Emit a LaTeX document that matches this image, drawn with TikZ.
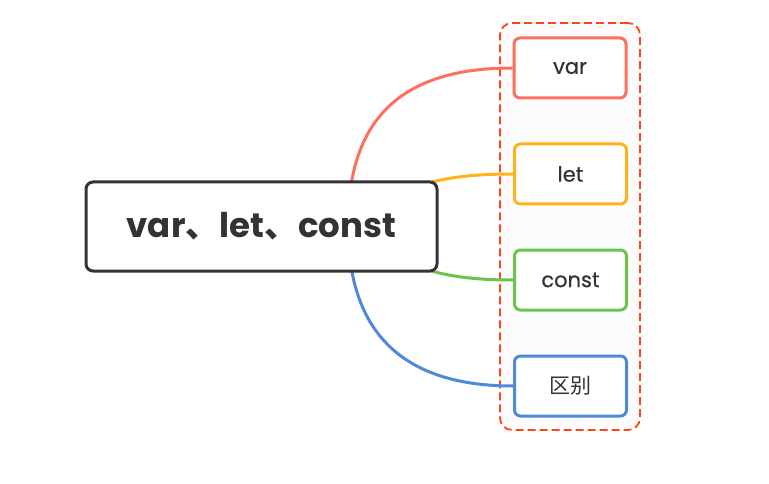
\documentclass[tikz,border=0pt]{standalone}
\usepackage{fontspec}
\setmainfont{Poppins}
\newfontfamily\cjk{Noto Sans CJK SC}
\definecolor{cred}{HTML}{FF6F5E}
\definecolor{corange}{HTML}{FFB319}
\definecolor{cgreen}{HTML}{6CC24A}
\definecolor{cblue}{HTML}{4F8AD9}
\definecolor{cdash}{HTML}{FF4512}
\definecolor{ctext}{HTML}{333333}
\begin{document}
\begin{tikzpicture}[x=1pt,y=-1pt,
  rootbox/.style={draw=ctext, fill=white, line width=3pt, rounded corners=7pt,
    minimum width=351pt, minimum height=89pt, inner sep=0pt, text=ctext,
    font=\fontsize{34}{40}\selectfont\bfseries},
  childbox/.style={draw=#1, fill=white, line width=3pt, rounded corners=6pt,
    minimum width=112pt, minimum height=60pt, inner sep=0pt, text=ctext,
    font=\fontsize{21}{25}\selectfont\addfontfeature{FakeBold=0.6}},
  groupbox/.style={draw=cdash, fill=black!1, line width=1.8pt, dash pattern=on 8pt off 4pt,
    rounded corners=12pt, minimum width=140pt, minimum height=407pt, inner sep=0pt},
  link/.style={line width=3pt, draw=#1}]
\useasboundingbox (0,0) rectangle (769,484);
\node[groupbox] (grp) at (570,226.5) {};
\coordinate (hub) at (348,226);
\node[childbox=cred] (var) at (570,68) {var};
\node[childbox=corange] (let) at (570.5,174) {let};
\node[childbox=cgreen] (const) at (570.5,280) {const};
\node[childbox=cblue] (diff) at (570.5,386) {\cjk 区别};
\draw[link=cred] (hub) .. controls (348,115) and (405,68) .. (var.west);
\draw[link=corange] (hub) .. controls (400,185) and (440,174) .. (let.west);
\draw[link=cgreen] (hub) .. controls (400,267) and (440,280) .. (const.west);
\draw[link=cblue] (hub) .. controls (348,335) and (405,386) .. (diff.west);
\node[rootbox] (root) at (261.5,226.5) {var{\cjk 、}let{\cjk 、}const};
\end{tikzpicture}
\end{document}
